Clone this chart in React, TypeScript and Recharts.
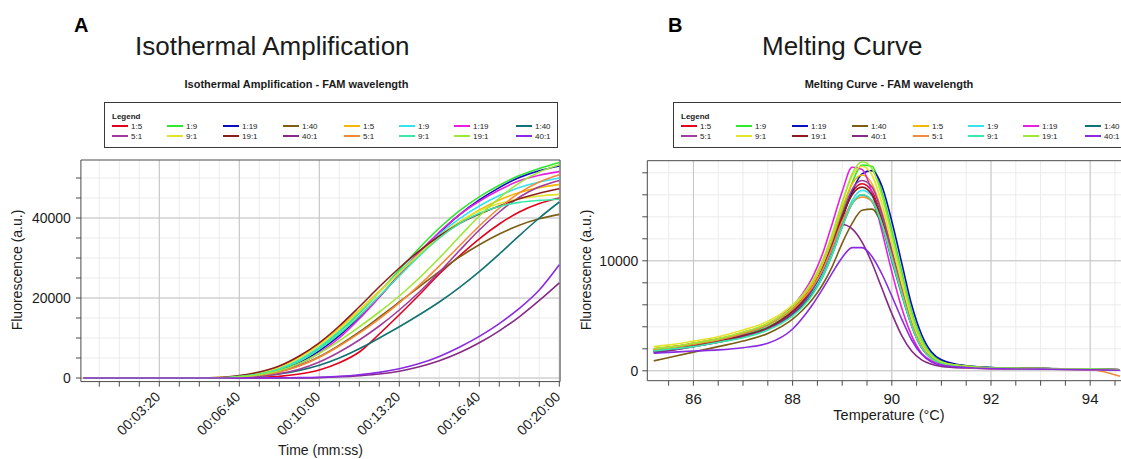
import React from 'react';
import { LineChart, Line, XAxis, YAxis, CartesianGrid } from 'recharts';

const FONT = '"Liberation Sans", Arial, Helvetica, sans-serif';
const AXIS = '#4a4a4a';
const TXT = '#1a1a1a';
const GRID_MINOR = '#ebebeb';
const GRID_MAJOR = '#c4c4c4';

// Legend (row 1 then row 2, 8 columns)
const legendLabels = ['1:5', '1:9', '1:19', '1:40', '1:5', '1:9', '1:19', '1:40', '5:1', '9:1', '19:1', '40:1', '5:1', '9:1', '19:1', '40:1'];
const seriesColors = ['#e3001b', '#2ee82e', '#0c0cbf', '#7b5e14', '#f5b800', '#33e3f0', '#e81fe0', '#127272', '#a03c9c', '#e3e32a', '#8c1c1c', '#862a86', '#f5893a', '#38e8a8', '#9be835', '#8a2be2'];

// ---------- A: Isothermal amplification ----------
const ampTimes = [10, 50, 100, 150, 200, 250, 300, 350, 400, 450, 500, 550, 600, 650, 700, 750, 800, 850, 900, 950, 1000, 1050, 1100, 1150, 1200];
const amp_1_5a = [0, 0, 0, 0, 0, 0, 0, 0, 50, 150, 400, 1000, 2000, 3800, 6500, 11000, 15800, 20800, 26000, 30500, 34800, 38500, 41500, 43600, 45000];
const amp_1_9a = [0, 0, 0, 0, 0, 0, 0, 0, 400, 1000, 2200, 4400, 7500, 11500, 16200, 21500, 27000, 32500, 37500, 41800, 45300, 48200, 50600, 52400, 53900];
const amp_1_19a = [0, 0, 0, 0, 0, 0, 0, 0, 300, 800, 1900, 3800, 6800, 10600, 15200, 20300, 25800, 31300, 36300, 40800, 44500, 47600, 50100, 51800, 53000];
const amp_1_40a = [0, 0, 0, 0, 0, 0, 0, 0, 300, 700, 1600, 3100, 5300, 8200, 11500, 15200, 19000, 22800, 26600, 30200, 33300, 36000, 38200, 39800, 40900];
const amp_1_5b = [0, 0, 0, 0, 0, 0, 0, 100, 500, 1400, 2900, 5300, 8600, 12500, 17000, 21700, 26300, 30800, 35000, 38800, 42000, 44500, 46400, 47600, 48400];
const amp_1_9b = [0, 0, 0, 0, 0, 0, 0, 0, 400, 1100, 2400, 4600, 7800, 11800, 16500, 21500, 26500, 31500, 36000, 39800, 43000, 45600, 47600, 49000, 50000];
const amp_1_19b = [0, 0, 0, 0, 0, 0, 0, 0, 300, 800, 1800, 3500, 6300, 10000, 14800, 20200, 25800, 31500, 36500, 40800, 44200, 47000, 49300, 50700, 51600];
const amp_1_40b = [0, 0, 0, 0, 0, 0, 0, 0, 200, 500, 1000, 1900, 3200, 5000, 7300, 10000, 12800, 15800, 19000, 22600, 26600, 31000, 35600, 40000, 44000];
const amp_5_1a = [0, 0, 0, 0, 0, 0, 0, 0, 200, 500, 1100, 2200, 4000, 6500, 9500, 13000, 17000, 21500, 26500, 31800, 37000, 41500, 45200, 47800, 49400];
const amp_9_1a = [0, 0, 0, 0, 0, 0, 0, 100, 500, 1300, 2700, 5000, 8200, 12200, 16800, 21500, 26300, 31000, 35500, 39000, 41800, 43600, 44800, 45500, 45900];
const amp_19_1a = [0, 0, 0, 0, 0, 0, 0, 100, 600, 1500, 3000, 5500, 8800, 13000, 17800, 22800, 27500, 31800, 35500, 38600, 41000, 43000, 44800, 46200, 47300];
const amp_40_1a = [0, 0, 0, 0, 0, 0, 0, 0, 0, 0, 0, 0, 100, 300, 600, 1000, 1700, 2800, 4300, 6300, 8800, 11800, 15300, 19400, 23800];
const amp_5_1b = [0, 0, 0, 0, 0, 0, 0, 0, 300, 700, 1500, 3000, 5200, 8000, 11200, 14800, 18800, 23200, 28000, 33000, 38000, 42500, 46300, 49000, 50800];
const amp_9_1b = [0, 0, 0, 0, 0, 0, 0, 0, 400, 1000, 2200, 4200, 7200, 11000, 15500, 20500, 25500, 30500, 35000, 38600, 41200, 42900, 43900, 44400, 44700];
const amp_19_1b = [0, 0, 0, 0, 0, 0, 0, 0, 300, 800, 1800, 3600, 6200, 9300, 12800, 16500, 20500, 25000, 30000, 35300, 40500, 45000, 48800, 51500, 53300];
const amp_40_1b = [0, 0, 0, 0, 0, 0, 0, 0, 0, 0, 50, 100, 200, 400, 800, 1400, 2300, 3600, 5400, 7700, 10400, 13600, 17400, 22000, 28300];

const ampSeries = [amp_1_5a, amp_1_9a, amp_1_19a, amp_1_40a, amp_1_5b, amp_1_9b, amp_1_19b, amp_1_40b, amp_5_1a, amp_9_1a, amp_19_1a, amp_40_1a, amp_5_1b, amp_9_1b, amp_19_1b, amp_40_1b];

const ampXTicks = [50, 100, 150, 200, 250, 300, 350, 400, 450, 500, 550, 600, 650, 700, 750, 800, 850, 900, 950, 1000, 1050, 1100, 1150, 1200];
const ampXMajor = [200, 400, 600, 800, 1000, 1200];
const ampYTicks = [0, 5000, 10000, 15000, 20000, 25000, 30000, 35000, 40000, 45000, 50000];
const ampYMajor = [0, 20000, 40000];
const ampXDomain = [4, 1202];
const ampYDomain = [-900, 54500];

// ---------- B: Melting curve ----------
const meltTemps = [85.2, 85.6, 86, 86.5, 87, 87.5, 88, 88.2, 88.4, 88.6, 88.8, 89.0, 89.2, 89.4, 89.6, 89.8, 90.0, 90.2, 90.4, 90.6, 90.8, 91.0, 91.5, 92, 93, 94, 94.6];
const melt_1_5a = [2000, 2200, 2500, 2900, 3400, 4200, 5700, 6600, 7700, 9300, 11500, 14000, 16200, 17000, 16300, 13900, 10500, 7200, 4200, 2200, 1200, 700, 350, 250, 200, 150, 100];
const melt_1_9a = [1900, 2100, 2400, 2800, 3300, 4000, 5500, 6400, 7600, 9300, 11700, 14500, 17100, 18700, 18600, 16300, 12800, 9000, 5400, 2900, 1500, 900, 450, 300, 200, 150, 100];
const melt_1_19a = [1800, 2000, 2300, 2700, 3200, 3900, 5300, 6200, 7300, 8900, 11100, 13800, 16300, 17900, 18200, 16800, 13600, 9800, 6000, 3300, 1700, 1000, 450, 300, 200, 150, 100];
const melt_1_40a = [900, 1300, 1700, 2200, 2700, 3400, 4700, 5500, 6500, 7800, 9500, 11600, 13400, 14600, 14700, 13300, 10600, 7600, 4600, 2500, 1300, 800, 400, 250, 200, 150, 100];
const melt_1_5b = [2000, 2200, 2500, 2900, 3500, 4300, 5800, 6700, 7900, 9600, 12000, 14800, 17000, 17800, 17000, 14500, 11000, 7600, 4500, 2300, 1200, 700, 350, 250, 200, 150, 100];
const melt_1_9b = [1800, 2000, 2300, 2700, 3200, 3900, 5300, 6100, 7200, 8700, 10800, 13300, 15500, 16400, 15900, 13800, 10600, 7400, 4400, 2300, 1200, 700, 350, 250, 200, 150, 100];
const melt_1_19b = [1900, 2100, 2400, 2800, 3400, 4200, 5900, 7000, 8500, 10600, 13400, 16300, 18500, 18300, 16200, 12700, 9000, 5700, 3200, 1600, 900, 600, 350, 250, 200, 150, 100];
const melt_1_40b = [1800, 2000, 2300, 2700, 3100, 3800, 5100, 5900, 7000, 8500, 10600, 13100, 15200, 16000, 15400, 13200, 10000, 6900, 4100, 2100, 1100, 700, 350, 250, 200, 150, 100];
const melt_5_1a = [1600, 1900, 2200, 2600, 3100, 3900, 5400, 6300, 7500, 9200, 11500, 14200, 16500, 17300, 16700, 14300, 10900, 7500, 4400, 2300, 1200, 700, 350, 250, 200, 150, 100];
const melt_9_1a = [2200, 2400, 2700, 3100, 3700, 4500, 6000, 6900, 8200, 10000, 12500, 15300, 17700, 18600, 17800, 15200, 11600, 8000, 4700, 2400, 1300, 800, 400, 250, 200, 150, 100];
const melt_19_1a = [1700, 2000, 2300, 2700, 3200, 3900, 5400, 6300, 7500, 9200, 11400, 14000, 16000, 16700, 16000, 13700, 10400, 7100, 4100, 2100, 1100, 700, 350, 250, 200, 150, 100];
const melt_40_1a = [1700, 1900, 2200, 2600, 3100, 3800, 5200, 6100, 7400, 9200, 11400, 13300, 12900, 11700, 9800, 7500, 5200, 3200, 1800, 1000, 600, 400, 250, 200, 150, 100, 50];
const melt_5_1b = [1900, 2100, 2400, 2800, 3400, 4200, 5600, 6500, 7600, 9100, 11200, 13600, 15200, 15800, 15400, 13400, 10400, 7200, 4200, 2200, 1100, 700, 300, 200, 150, 100, -500];
const melt_9_1b = [1800, 2000, 2200, 2600, 3000, 3700, 5000, 5800, 6900, 8500, 10600, 13100, 15200, 16000, 15500, 13300, 10200, 7000, 4100, 2100, 1100, 700, 350, 250, 200, 150, 100];
const melt_19_1b = [2000, 2200, 2500, 2900, 3500, 4300, 5800, 6800, 8100, 9900, 12400, 15300, 17900, 19000, 18400, 15900, 12300, 8600, 5100, 2700, 1400, 800, 400, 250, 200, 150, 100];
const melt_40_1b = [1600, 1700, 1800, 1900, 2100, 2500, 3800, 4800, 6000, 7400, 8900, 10300, 11200, 11200, 10400, 8800, 6800, 4700, 2800, 1500, 800, 500, 300, 200, 150, 100, 50];

const meltSeries = [melt_1_5a, melt_1_9a, melt_1_19a, melt_1_40a, melt_1_5b, melt_1_9b, melt_1_19b, melt_1_40b, melt_5_1a, melt_9_1a, melt_19_1a, melt_40_1a, melt_5_1b, melt_9_1b, melt_19_1b, melt_40_1b];

const meltXTicks = [85.5, 86, 86.5, 87, 87.5, 88, 88.5, 89, 89.5, 90, 90.5, 91, 91.5, 92, 92.5, 93, 93.5, 94, 94.5];
const meltXMajor = [86, 88, 90, 92, 94];
const meltYTicks = [0, 2000, 4000, 6000, 8000, 10000, 12000, 14000, 16000, 18000];
const meltYMajor = [0, 10000];
const meltXDomain = [85.07, 95.0];
const meltYDomain = [-900, 19100];

const buildRows = (xs: number[], key: string, series: number[][]) =>
  xs.map((x, i) => {
    const row: Record<string, number> = { [key]: x };
    series.forEach((s, k) => {
      row['s' + k] = s[i];
    });
    return row;
  });

const ampRows = buildRows(ampTimes, 't', ampSeries);
const meltRows = buildRows(meltTemps, 'T', meltSeries);

const pad2 = (n: number) => String(n).padStart(2, '0');
const fmtTime = (v: number) => `00:${pad2(Math.floor(v / 60))}:${pad2(v % 60)}`;

const AmpXTick = (props: any) => {
  const { x, y, payload } = props;
  if (!ampXMajor.includes(payload.value)) return null;
  return (
    <text
      transform={`translate(${x - 1.5},${y + 5.5}) rotate(-45)`}
      textAnchor="end"
      dy="0.355em"
      fontSize={14}
      fill={TXT}
      fontFamily={FONT}
    >
      {fmtTime(payload.value)}
    </text>
  );
};

const AmpYTick = (props: any) => {
  const { x, y, payload } = props;
  if (!ampYMajor.includes(payload.value)) return null;
  return (
    <text x={x} y={y} dy="0.355em" textAnchor="end" fontSize={14} fill={TXT} fontFamily={FONT}>
      {payload.value}
    </text>
  );
};

const MeltXTick = (props: any) => {
  const { x, y, payload } = props;
  if (!meltXMajor.includes(payload.value)) return null;
  return (
    <text x={x} y={y} dy="0.71em" textAnchor="middle" fontSize={15} fill={TXT} fontFamily={FONT}>
      {payload.value}
    </text>
  );
};

const MeltYTick = (props: any) => {
  const { x, y, payload } = props;
  if (!meltYMajor.includes(payload.value)) return null;
  return (
    <text x={x} y={y} dy="0.355em" textAnchor="end" fontSize={14} fill={TXT} fontFamily={FONT}>
      {payload.value}
    </text>
  );
};

const legendCols = [8, 63, 119, 179, 240, 295, 350, 412];

const LegendBox = ({ x, y }: { x: number; y: number }) => (
  <g transform={`translate(${x},${y})`}>
    <rect x={0.5} y={0.5} width={453} height={45} fill="#fff" stroke="#3a3a3a" strokeWidth={1} />
    <text x={8} y={17} fontSize={8} fontWeight="bold" fill={TXT} fontFamily={FONT}>
      Legend
    </text>
    {legendLabels.map((lab, i) => {
      const col = i % 8;
      const row = Math.floor(i / 8);
      const cy = row === 0 ? 24 : 34;
      const lx = legendCols[col];
      return (
        <g key={i}>
          <line x1={lx} x2={lx + 16} y1={cy} y2={cy} stroke={seriesColors[i]} strokeWidth={2} />
          <text x={lx + 19} y={cy + 3} fontSize={8} fill={TXT} fontFamily={FONT}>
            {lab}
          </text>
        </g>
      );
    })}
  </g>
);

export default function App() {
  return (
    <div
      style={{
        position: 'fixed',
        left: 0,
        top: 0,
        width: 1121,
        height: 459,
        overflow: 'hidden',
        background: '#fff',
        fontFamily: FONT,
      }}
    >
      {/* Chart A */}
      <div style={{ position: 'absolute', left: 0, top: 0 }}>
        <LineChart width={580} height={459} data={ampRows} margin={{ top: 160, right: 19.9, bottom: 0, left: 0 }}>
          <CartesianGrid
            stroke={GRID_MINOR}
            horizontalValues={ampYTicks}
            verticalValues={ampXTicks}
          />
          <CartesianGrid stroke={GRID_MAJOR} horizontalValues={ampYMajor} verticalValues={ampXMajor} />
          <CartesianGrid stroke={AXIS} horizontalValues={[ampYDomain[1]]} verticalValues={[ampXDomain[1]]} />
          <XAxis
            dataKey="t"
            type="number"
            domain={ampXDomain}
            allowDataOverflow
            ticks={ampXTicks}
            interval={0}
            tick={AmpXTick}
            tickSize={5}
            tickMargin={2}
            height={77.4}
            stroke={AXIS}
            axisLine={{ stroke: AXIS }}
            tickLine={{ stroke: AXIS }}
          />
          <YAxis
            type="number"
            domain={ampYDomain}
            allowDataOverflow
            ticks={ampYTicks}
            interval={0}
            tick={AmpYTick}
            tickSize={5}
            tickMargin={5}
            width={80.9}
            stroke={AXIS}
            axisLine={{ stroke: AXIS }}
            tickLine={{ stroke: AXIS }}
          />
          {ampSeries.map((_, k) => (
            <Line
              key={k}
              type="monotone"
              dataKey={'s' + k}
              stroke={seriesColors[k]}
              strokeWidth={1.6}
              dot={false}
              isAnimationActive={false}
            />
          ))}
        </LineChart>
      </div>

      {/* Chart B */}
      <div style={{ position: 'absolute', left: 560, top: 0 }}>
        <LineChart width={600} height={459} data={meltRows} margin={{ top: 160.7, right: 20.2, bottom: 0, left: 0 }}>
          <CartesianGrid stroke={GRID_MINOR} horizontalValues={meltYTicks} verticalValues={meltXTicks} />
          <CartesianGrid stroke={GRID_MAJOR} horizontalValues={meltYMajor} verticalValues={meltXMajor} />
          <CartesianGrid stroke={AXIS} horizontalValues={[meltYDomain[1]]} verticalValues={[meltXDomain[1]]} />
          <XAxis
            dataKey="T"
            type="number"
            domain={meltXDomain}
            allowDataOverflow
            ticks={meltXTicks}
            interval={0}
            tick={MeltXTick}
            tickSize={5}
            tickMargin={8}
            height={78.3}
            stroke={AXIS}
            axisLine={{ stroke: AXIS }}
            tickLine={{ stroke: AXIS }}
          />
          <YAxis
            type="number"
            domain={meltYDomain}
            allowDataOverflow
            ticks={meltYTicks}
            interval={0}
            tick={MeltYTick}
            tickSize={5}
            tickMargin={4}
            width={87.3}
            stroke={AXIS}
            axisLine={{ stroke: AXIS }}
            tickLine={{ stroke: AXIS }}
          />
          {meltSeries.map((_, k) => (
            <Line
              key={k}
              type="monotone"
              dataKey={'s' + k}
              stroke={seriesColors[k]}
              strokeWidth={1.6}
              dot={false}
              isAnimationActive={false}
            />
          ))}
        </LineChart>
      </div>

      {/* Titles, labels, legends */}
      <svg width={1121} height={459} style={{ position: 'absolute', left: 0, top: 0, pointerEvents: 'none' }}>
        <text x={74} y={32} fontSize={20} fontWeight="bold" fill="#000" fontFamily={FONT}>A</text>
        <text x={668} y={32} fontSize={20} fontWeight="bold" fill="#000" fontFamily={FONT}>B</text>
        <text x={135} y={55} fontSize={26} fill={TXT} fontFamily={FONT}>Isothermal Amplification</text>
        <text x={762} y={55} fontSize={26} fill={TXT} fontFamily={FONT}>Melting Curve</text>
        <text x={296.5} y={87.5} fontSize={11} fontWeight="bold" textAnchor="middle" fill={TXT} fontFamily={FONT}>
          Isothermal Amplification - FAM wavelength
        </text>
        <text x={889} y={87.5} fontSize={11} fontWeight="bold" textAnchor="middle" fill={TXT} fontFamily={FONT}>
          Melting Curve - FAM wavelength
        </text>
        <LegendBox x={104} y={102} />
        <LegendBox x={673} y={102} />
        <text
          transform="translate(17,270) rotate(-90)"
          textAnchor="middle"
          dy="0.355em"
          fontSize={14}
          fill={TXT}
          fontFamily={FONT}
        >
          Fluorescence (a.u.)
        </text>
        <text
          transform="translate(586,270) rotate(-90)"
          textAnchor="middle"
          dy="0.355em"
          fontSize={14}
          fill={TXT}
          fontFamily={FONT}
        >
          Fluorescence (a.u.)
        </text>
        <text x={320.5} y={450} dy="0.355em" textAnchor="middle" fontSize={14} fill={TXT} fontFamily={FONT}>
          Time (mm:ss)
        </text>
        <text x={889} y={415} dy="0.355em" textAnchor="middle" fontSize={14.5} fill={TXT} fontFamily={FONT}>
          Temperature (°C)
        </text>
      </svg>
    </div>
  );
}
